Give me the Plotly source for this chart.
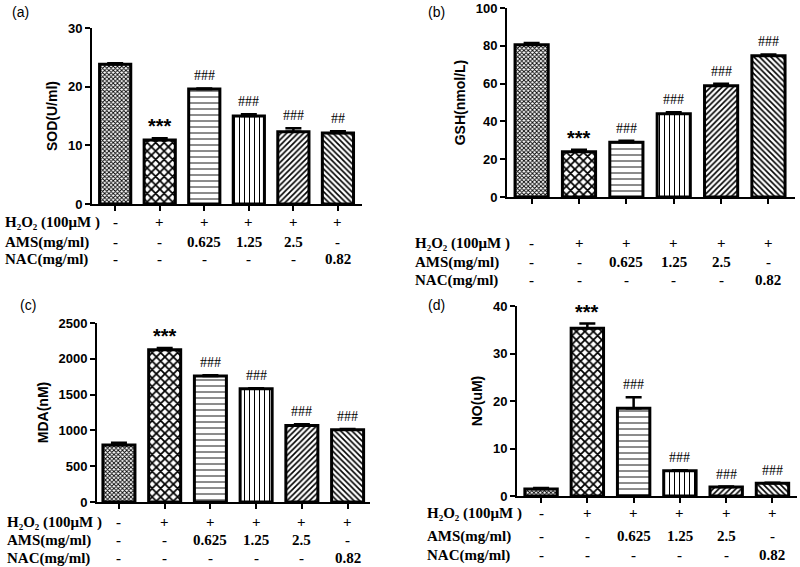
import plotly.graph_objects as go

groups = ["Control", "H2O2", "AMS 0.625", "AMS 1.25", "AMS 2.5", "NAC 0.82"]

sod = [23.8, 10.9, 19.6, 15.0, 12.3, 12.1]
sod_err = [0.2, 0.3, 0.1, 0.3, 0.6, 0.3]
gsh = [80.5, 24.0, 29.0, 44.0, 58.9, 74.8]
gsh_err = [1.0, 1.0, 0.8, 0.9, 1.0, 0.6]
mda = [796, 2125, 1760, 1580, 1070, 1010]
mda_err = [30, 25, 10, 10, 15, 8]
no = [1.5, 35.3, 18.5, 5.3, 1.9, 2.7]
no_err = [0.2, 1.0, 2.3, 0.1, 0.1, 0.1]

sig_a = ["", "***", "###", "###", "###", "##"]
sig_bcd = ["", "***", "###", "###", "###", "###"]

row_h2o2 = ["-", "+", "+", "+", "+", "+"]
row_ams = ["-", "-", "0.625", "1.25", "2.5", "-"]
row_nac = ["-", "-", "-", "-", "-", "0.82"]
row_labels = ["H₂O₂ (100μM )", "AMS(mg/ml)", "NAC(mg/ml)"]

W, H = 800, 567

def px(x):
    return x / W

def py(y):
    return 1 - y / H

shapes_ = ["x", "x", "-", "|", "/", "\\"]
sizes_ = [3, 6, 6, 5, 4, 4]
solid_ = [0.5, 0.5, 0.15, 0.2, 0.4, 0.4]

SANS = "Liberation Sans, Arial"
SERIF = "Liberation Serif, Times New Roman"

panels = [
    dict(tag="(a)", v=sod, e=sod_err, yt="SOD(U/ml)", ymax=30, dt=10,
         x0=92, x1=362, y0=204, y1=28, xr=[-0.52, 5.54], sig=sig_a,
         lab=(20, 12), rows=[222, 242, 259], rlx=3),
    dict(tag="(b)", v=gsh, e=gsh_err, yt="GSH(nmol/L)", ymax=100, dt=20,
         x0=507, x1=795, y0=197, y1=8, xr=[-0.52, 5.56], sig=sig_bcd,
         lab=(436, 12), rows=[243, 262, 280], rlx=413),
    dict(tag="(c)", v=mda, e=mda_err, yt="MDA(nM)", ymax=2500, dt=500,
         x0=97, x1=370, y0=502, y1=323, xr=[-0.48, 5.49], sig=sig_bcd,
         lab=(28, 305), rows=[522, 540, 558], rlx=5),
    dict(tag="(d)", v=no, e=no_err, yt="NO(uM)", ymax=40, dt=10,
         x0=517, x1=797, y0=496, y1=306, xr=[-0.52, 5.53], sig=sig_bcd,
         lab=(436, 305), rows=[513, 536, 555], rlx=425),
]

fig = go.Figure()
annotations = []
layout = {}

for i, p in enumerate(panels):
    n = "" if i == 0 else str(i + 1)
    xa, ya = "x" + n, "y" + n
    fig.add_trace(go.Bar(
        x=list(range(6)), y=p["v"], xaxis=xa, yaxis=ya, width=0.7,
        marker=dict(color="white", line=dict(color="black", width=3),
                    pattern=dict(shape=shapes_, size=sizes_, solidity=solid_,
                                 fgcolor="black", bgcolor="white", fillmode="replace")),
        error_y=dict(type="data", array=p["e"], arrayminus=[0] * 6, symmetric=False,
                     color="black", thickness=2.5, width=8),
        showlegend=False, hoverinfo="skip",
    ))
    layout["xaxis" + n] = dict(
        domain=[px(p["x0"]), px(p["x1"])], anchor=ya, range=p["xr"], automargin=False,
        showline=True, linecolor="black", linewidth=2, ticks="outside", ticklen=5,
        tickwidth=1.5, tickcolor="black", tickvals=list(range(6)), showticklabels=False,
        showgrid=False, zeroline=False, fixedrange=True,
    )
    layout["yaxis" + n] = dict(
        domain=[py(p["y0"]), py(p["y1"])], anchor=xa, range=[0, p["ymax"]], automargin=False,
        dtick=p["dt"], tick0=0, showline=True, linecolor="black", linewidth=2,
        ticks="outside", ticklen=5, tickwidth=2, tickcolor="black",
        tickfont=dict(family=SANS, size=13, color="black", weight="bold"),
        title=dict(text=p["yt"], font=dict(family=SANS, size=14, color="black", weight="bold"),
                   standoff=7),
        showgrid=False, zeroline=False, fixedrange=True,
    )
    annotations.append(dict(text=p["tag"], x=px(p["lab"][0]), y=py(p["lab"][1]),
                            xref="paper", yref="paper", showarrow=False,
                            xanchor="center", yanchor="middle",
                            font=dict(family=SANS, size=14, color="black")))
    for k in range(6):
        s = p["sig"][k]
        if not s:
            continue
        star = s.startswith("*")
        annotations.append(dict(
            text=s, x=k, y=p["v"][k] + p["e"][k], xref=xa, yref=ya, showarrow=False,
            xanchor="center", yanchor="bottom", yshift=(-1 if star else 3),
            font=dict(family=(SANS if star else SERIF), size=(20 if star else 14),
                      color="black", weight=("bold" if star else "normal")),
        ))
    for r, (lbl, vals) in enumerate(zip(row_labels, [row_h2o2, row_ams, row_nac])):
        ypos = py(p["rows"][r])
        annotations.append(dict(
            text=lbl, x=px(p["rlx"]), y=ypos, xref="paper", yref="paper", showarrow=False,
            xanchor="left", yanchor="middle",
            font=dict(family=SERIF, size=15, color="black", weight="bold")))
        for k in range(6):
            annotations.append(dict(
                text=vals[k], x=k, y=ypos, xref=xa, yref="paper", showarrow=False,
                xanchor="center", yanchor="middle",
                font=dict(family=SERIF, size=15, color="black", weight="bold")))

fig.update_layout(
    width=W, height=H, margin=dict(l=0, r=0, t=0, b=0, autoexpand=False),
    paper_bgcolor="white", plot_bgcolor="white",
    annotations=annotations, bargap=0.3, **layout,
)

fig.write_html("out.html", config={"displayModeBar": False},
               post_script="document.body.style.margin='0';")
